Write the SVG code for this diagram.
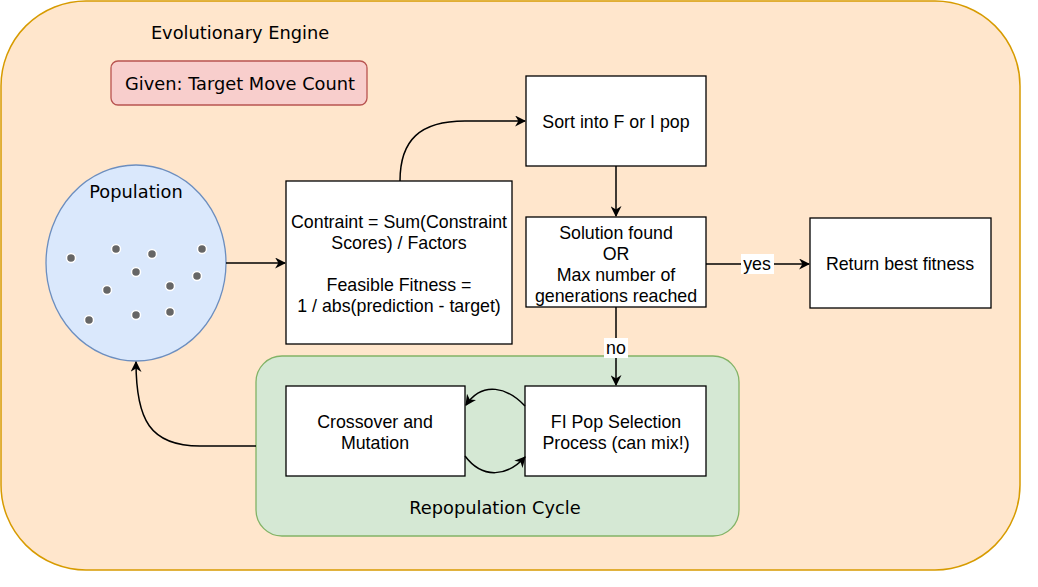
<svg xmlns="http://www.w3.org/2000/svg" width="1038" height="587" viewBox="0 0 1038 587">
<defs>
<style>
.lbl{font-family:"DejaVu Sans",Verdana,sans-serif;font-size:17.8px;fill:#000;text-anchor:middle;dominant-baseline:central}
.txt{font-family:"Liberation Sans",Arial,sans-serif;font-size:17.8px;fill:#000;text-anchor:middle;dominant-baseline:central}
.box{fill:#fff;stroke:#000;stroke-width:1.3}
.con{fill:none;stroke:#000;stroke-width:1.5}
.dot{fill:#666;stroke:#fff;stroke-width:1.5}
</style>
<marker id="ah" viewBox="0 0 10 10" refX="9" refY="5" markerWidth="11" markerHeight="11" markerUnits="userSpaceOnUse" orient="auto">
<path d="M0,0 L10,5 L0,10 L3,5 Z" fill="#000"/>
</marker>
</defs>
<rect width="1038" height="587" fill="#fff"/>
<g id="engine">
<rect x="1" y="1" width="1019" height="569" rx="85" ry="85" fill="#ffe6cc" stroke="#d79b00" stroke-width="1.5"/>
<text class="lbl" x="240" y="32">Evolutionary Engine</text>
</g>
<g id="given">
<rect x="111" y="61" width="256" height="44" rx="7" ry="7" fill="#f8cecc" stroke="#b85450" stroke-width="1.3"/>
<text class="lbl" x="240" y="83">Given: Target Move Count</text>
</g>
<g id="repop">
<rect x="256" y="356" width="483" height="180" rx="26" ry="26" fill="#d5e8d4" stroke="#82b366" stroke-width="1.3"/>
<text class="lbl" x="495" y="507">Repopulation Cycle</text>
</g>
<g id="population">
<ellipse cx="136" cy="263" rx="90" ry="98" fill="#dae8fc" stroke="#6c8ebf" stroke-width="1.3"/>
<text class="lbl" x="136" y="191">Population</text>
<circle class="dot" cx="71" cy="258" r="4.5"/>
<circle class="dot" cx="116" cy="249" r="4.5"/>
<circle class="dot" cx="152" cy="254" r="4.5"/>
<circle class="dot" cx="202" cy="249" r="4.5"/>
<circle class="dot" cx="136" cy="272" r="4.5"/>
<circle class="dot" cx="197" cy="276" r="4.5"/>
<circle class="dot" cx="170" cy="286" r="4.5"/>
<circle class="dot" cx="107" cy="290" r="4.5"/>
<circle class="dot" cx="89" cy="320" r="4.5"/>
<circle class="dot" cx="136" cy="315" r="4.5"/>
<circle class="dot" cx="170" cy="312" r="4.5"/>
</g>
<g id="fitness">
<rect class="box" x="286" y="181" width="226" height="163"/>
<text class="txt" x="399" y="222">Contraint = Sum(Constraint</text>
<text class="txt" x="399" y="243">Scores) / Factors</text>
<text class="txt" x="399" y="285">Feasible Fitness =</text>
<text class="txt" x="399" y="306">1 / abs(prediction - target)</text>
</g>
<g id="sort">
<rect class="box" x="526" y="76" width="180" height="90"/>
<text class="txt" x="616" y="122">Sort into F or I pop</text>
</g>
<g id="solution">
<rect class="box" x="526" y="217" width="180" height="90"/>
<text class="txt" x="616" y="233">Solution found</text>
<text class="txt" x="616" y="254">OR</text>
<text class="txt" x="616" y="275">Max number of</text>
<text class="txt" x="616" y="296">generations reached</text>
</g>
<g id="return">
<rect class="box" x="810" y="218" width="181" height="90"/>
<text class="txt" x="900" y="264">Return best fitness</text>
</g>
<g id="crossover">
<rect class="box" x="286" y="386" width="179" height="90"/>
<text class="txt" x="375" y="422">Crossover and</text>
<text class="txt" x="375" y="443">Mutation</text>
</g>
<g id="selection">
<rect class="box" x="525" y="386" width="181" height="90"/>
<text class="txt" x="616" y="422">FI Pop Selection</text>
<text class="txt" x="616" y="443">Process (can mix!)</text>
</g>
<g id="connectors">
<path class="con" d="M226,263 L285,263" marker-end="url(#ah)"/>
<path class="con" d="M400,181 C400,140 420,121 465,121 L525,121" marker-end="url(#ah)"/>
<path class="con" d="M616,166 L616,216" marker-end="url(#ah)"/>
<path class="con" d="M706,264 L809,264" marker-end="url(#ah)"/>
<rect x="741" y="254" width="33" height="20" fill="#fff"/>
<text class="txt" x="757" y="264">yes</text>
<path class="con" d="M616,307 L616,385" marker-end="url(#ah)"/>
<rect x="604" y="338" width="24" height="20" fill="#fff"/>
<text class="txt" x="616" y="348">no</text>
<path class="con" d="M525,406 C508,388 483,380 466,405" marker-end="url(#ah)"/>
<path class="con" d="M465,456 C483,480 508,476 525,457" marker-end="url(#ah)"/>
<path class="con" d="M256,446 L200,446 C150,446 136,420 136,362" marker-end="url(#ah)"/>
</g>
</svg>
